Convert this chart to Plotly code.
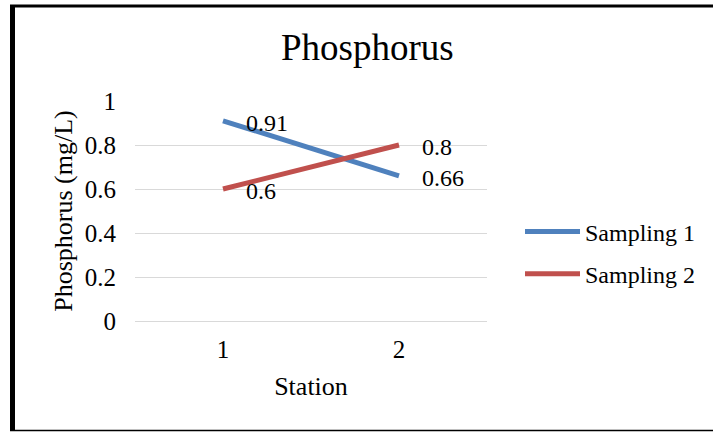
import plotly.graph_objects as go

stations = [1, 2]
sampling_1 = [0.91, 0.66]
sampling_2 = [0.6, 0.8]
series_names = ["Sampling 1", "Sampling 2"]
y_ticks = [0, 0.2, 0.4, 0.6, 0.8, 1]

W, H = 713, 432
L, R, T, B = 135, 226, 101, 111
FONT = "Liberation Serif"
colors = ["#4F81BD", "#C0504D"]

fig = go.Figure()
for i, (name, vals) in enumerate(zip(series_names, [sampling_1, sampling_2])):
    fig.add_trace(go.Scatter(
        x=stations, y=vals, name=name, mode="lines",
        line=dict(color=colors[i], width=5),
        legendgroup=name, cliponaxis=False,
    ))
    for xv, yv in zip(stations, vals):
        fig.add_annotation(
            x=xv, y=yv, text=f"{yv:g}", showarrow=False,
            xanchor="left", yanchor="middle", xshift=21, yshift=-2,
            font=dict(family=FONT, size=24, color="#000"),
        )

pw, ph = W - L - R, H - T - B


def px_x(p):
    return (p - L) / pw


def px_y(p):
    return (H - B - p) / ph


# chart frame: heavy left edge, top and bottom rules
fig.add_shape(type="line", xref="paper", yref="paper",
              x0=px_x(12.5), x1=px_x(12.5), y0=px_y(5), y1=px_y(431),
              line=dict(color="#000", width=5))
fig.add_shape(type="line", xref="paper", yref="paper",
              x0=px_x(10), x1=px_x(713), y0=px_y(6), y1=px_y(6),
              line=dict(color="#000", width=3))
fig.add_shape(type="line", xref="paper", yref="paper",
              x0=px_x(10), x1=px_x(713), y0=px_y(430.5), y1=px_y(430.5),
              line=dict(color="#000", width=1.5))

fig.add_annotation(
    x=px_x(367), y=px_y(48), xref="paper", yref="paper", text="Phosphorus",
    showarrow=False, xanchor="center", yanchor="middle",
    font=dict(family=FONT, size=37, color="#000"),
)

fig.update_layout(
    width=W, height=H,
    margin=dict(l=L, r=R, t=T, b=B, pad=0),
    paper_bgcolor="white", plot_bgcolor="white",
    font=dict(family=FONT, size=25, color="#000"),
    showlegend=True,
    legend=dict(
        x=px_x(520), y=px_y(253), xanchor="left", yanchor="middle",
        font=dict(family=FONT, size=24, color="#000"),
        itemwidth=55, traceorder="grouped", tracegroupgap=8,
        bgcolor="rgba(0,0,0,0)",
    ),
    xaxis=dict(
        range=[0.5, 2.5], tickvals=stations, ticktext=[str(s) for s in stations],
        showgrid=False, zeroline=False, showline=False, ticks="",
        ticklabelstandoff=11,
        title=dict(text="Station", standoff=14, font=dict(size=26)),
    ),
    yaxis=dict(
        range=[0, 1], tickvals=y_ticks, ticktext=[f"{v:g}" for v in y_ticks],
        showgrid=True, gridcolor="#D9D9D9", gridwidth=1,
        zeroline=True, zerolinecolor="#D9D9D9", zerolinewidth=1,
        showline=False, ticks="", ticklabelstandoff=18,
        title=dict(text="Phosphorus (mg/L)", standoff=4, font=dict(size=26)),
    ),
)

fig.write_html("out.html")
